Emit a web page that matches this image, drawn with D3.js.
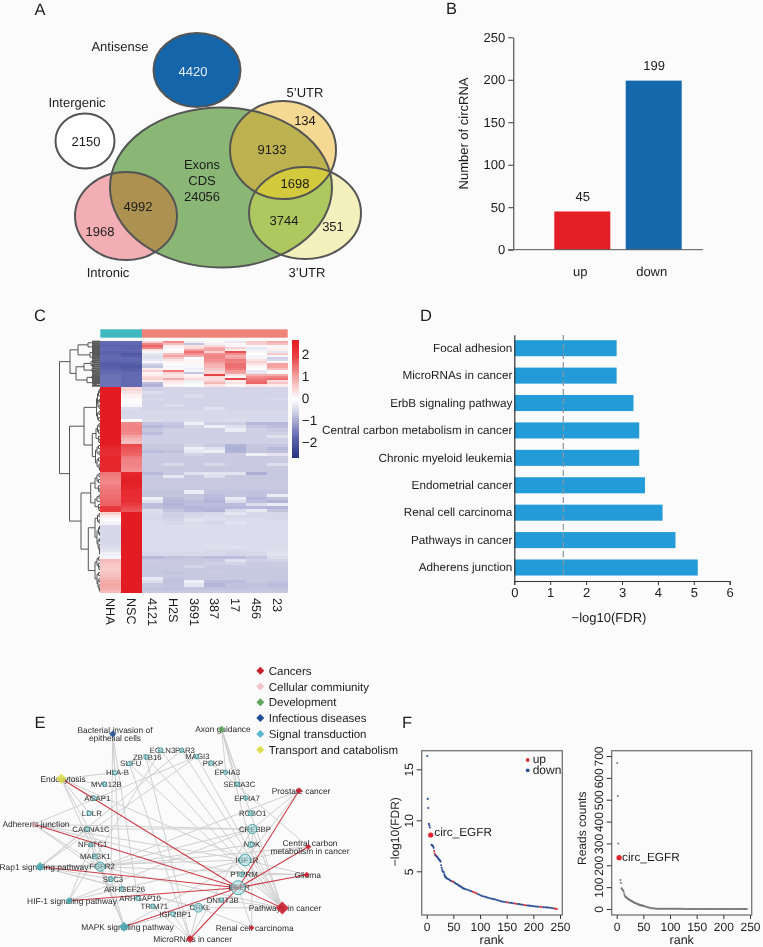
<!DOCTYPE html>
<html>
<head>
<meta charset="utf-8">
<script src="https://d3js.org/d3.v7.min.js"></script>
<style>
  html, body { margin: 0; padding: 0; background: #fbfbfb; }
  svg { display: block; font-family: "Liberation Sans", Arial, sans-serif; fill: #1c1c1c; text-rendering: geometricPrecision; filter: blur(0.3px); }
  .domain { stroke: #333; }
  .tick line { stroke: #333; }
  .tick text { fill: #1c1c1c; }
</style>
</head>
<body>
<svg id="fig" width="763" height="947"></svg>
<script>
// panel A
var vennNames = ["Antisense", "Intergenic", "Exons", "5’UTR", "3’UTR", "Intronic"];
var vennCounts = [4420, 2150, 24056, 134, 351, 1968];
var vennOverlapCounts = [9133, 1698, 3744, 4992];

// panel B
var circTypes = ["up", "down"];
var circCounts = [45, 199];

// panel C
var heatCols = ["NHA", "NSC", "4121", "H2S", "3691", "387", "17", "456", "23"];
var heatRowCounts = [2,2,2,2,2,2,2,2,2,2,2,2,2,2,2,2,2,2,2,2,2,3,
  4,3,3,3,3,3,3,3,3,3,3,3,3,3,3,3,3,3,3,3,3,3,3,3,3,3,3,3,3,3,3,3,3,3,3,3,3,3,3,3,3,3,3,3,3,3,3,3,3,3,3,3,3,3,3,3,3,3,3,3,3,3,3,3,3,3];
var heatRows = [
  [-1.7,-1.7,.5,1.2,-.2,.1,-.3,.6,.9],
  [-1.7,-1.7,1.3,.7,-.7,-.2,.1,.5,.7],
  [-1.8,-1.8,1.6,.2,.3,.4,-.1,-.1,-.1],
  [-1.7,-1.8,1.3,.1,.4,.9,.5,-.3,.1],
  [-1.7,-1.7,.3,.0,1,1,.2,-.2,.2],
  [-1.8,-1.8,-.1,.1,1.5,.5,1.8,.1,-.3],
  [-1.8,-2,-.3,.7,1.2,1.2,1.2,0,.6],
  [-1.7,-1.9,-.4,1,.9,1.3,.9,-.1,-.1],
  [-1.7,-1.7,-.4,.6,0,1.3,1,-.1,-.6],
  [-1.7,-1.7,-.3,.3,.1,1.2,1.4,.3,-.5],
  [-1.8,-1.8,-.1,.1,.1,1.1,1.3,.5,.1],
  [-1.9,-1.9,-.5,0,.1,.9,1.5,.3,1],
  [-1.9,-2,-.7,-.1,-.1,.8,1.5,.1,1],
  [-1.8,-1.9,.2,-.1,-.2,.6,1.4,0,.7],
  [-1.7,-1.8,.5,1.4,-.1,.5,1.1,-.3,-.1],
  [-1.7,-1.7,.1,.5,-.7,.4,1,-.3,-.1],
  [-1.6,-1.7,.2,.3,.1,1.9,.3,.9,.9],
  [-1.6,-1.7,.4,.3,.2,.4,.1,1.2,1.3],
  [-1.6,-1.7,.5,.9,.4,.3,1.9,1.4,1.5],
  [-1.6,-1.7,.2,.3,-.2,.5,.2,1.5,.4],
  [-1.6,-1.7,-.8,.2,-.1,.8,.3,1.6,.6],
  [-1.6,-1.7,-.9,.1,0,.3,.1,.3,.2],
  [2.65,.45,-.6,-.55,-.55,-.55,-.55,-.55,-.55],
  [2.65,.3,-.42,-.55,-.55,-.55,-.55,-.55,-.55],
  [2.65,.15,-.55,-.55,-.45,-.55,-.55,-.55,-.55],
  [2.65,.05,-.5,-.55,-.55,-.55,-.55,-.55,-.5],
  [2.65,-.05,-.55,-.55,-.55,-.55,-.55,-.55,-.55],
  [2.65,-.1,-.55,-.45,-.55,-.55,-.55,-.55,-.55],
  [2.65,-.45,-.55,-.55,-.55,-.38,-.55,-.55,-.55],
  [2.65,-.5,-.5,-.5,-.5,-.5,-.5,-.5,-.5],
  [2.65,-.5,-.5,-.5,-.5,-.5,-.5,-.5,-.5],
  [2.65,-.5,-.5,-.5,-.5,-.5,-.5,-.5,-.5],
  [2.65,.05,-.45,-.5,-.45,-.5,-.45,-.5,-.5],
  [2.65,1.25,-.72,-.68,-.2,-.6,-.62,-.85,-.85],
  [2.65,1.3,-.85,-.75,-.55,-.2,-.4,-.7,-.78],
  [2.65,1.3,-.7,-.6,-.6,-.6,-.22,-.6,-.65],
  [2.65,1.25,-.8,-.6,-.6,-.6,-.6,-.6,-.6],
  [2.65,1,-.6,-.6,-.6,-.6,-.6,-.6,-.4],
  [2.65,.8,-.6,-.6,-.6,-.6,-.6,-.6,-.6],
  [2.65,.7,-.6,-.6,-.6,-.6,-.6,-.6,-.6],
  [2.55,1.85,-.68,-.68,-.55,-.65,-.9,-.7,-.7],
  [2.35,1.75,-.68,-.68,-.2,-.4,-.95,-.7,-.85],
  [2.3,1.7,-.8,-.75,-.3,-.2,-.9,-.72,-.78],
  [2.25,1.6,-.65,-.65,-.55,-.65,-.65,-.2,-.35],
  [2.4,1.4,-.65,-.65,-.65,-.65,-.65,-.65,-.65],
  [2.45,1.3,-.65,-.65,-.65,-.65,-.65,-.65,-.65],
  [2.4,1.3,-.65,-.5,-.65,-.5,-.65,-.65,-.42],
  [2.35,1.25,-.68,-.68,-.68,-.68,-.68,-.68,-.68],
  [2.35,1.2,-.68,-.68,-.68,-.68,-.68,-.68,-.68],
  [1.45,2.4,-.85,-.68,-.38,-.35,-.35,-.95,-.68],
  [1.35,2.5,-.68,-.32,-.68,-.4,-.68,-.68,-.68],
  [1.3,2.55,-.68,-.68,-.68,-.68,-.68,-.68,-.68],
  [1.25,2.55,-.68,-.68,-.68,-.68,-.68,-.68,-.68],
  [1.35,2.5,-.65,-.65,-.65,-.65,-.65,-.65,-.65],
  [1.4,2.4,-.68,-.68,-.68,-.68,-.68,-.68,-.68],
  [1.45,2.3,-.72,-.75,-.22,-.72,-.72,-.75,-.72],
  [1.5,2.3,-.72,-.72,-.72,-.8,-.72,-.75,-.22],
  [1.55,2.25,-.2,-.82,-.7,-.85,-.25,-.85,-.75],
  [1.6,2.2,-.4,-.85,-.8,-.9,-.45,-.78,-.9],
  [1.6,2,-.78,-.9,-.8,-.8,-.8,-.42,-.22],
  [2,1.85,-.78,-.82,-.9,-.85,-.85,-.85,-.88],
  [2.05,1.75,-.42,-.72,-.85,-.9,-.5,-.3,-.72],
  [.5,2.65,-.45,-.6,-.55,-.5,-.32,-.5,-.5],
  [.2,2.65,-.5,-.6,-.5,-.45,-.5,-.5,-.5],
  [-.05,2.65,-.5,-.55,-.35,-.42,-.45,-.45,-.5],
  [-.15,2.65,-.45,-.5,-.42,-.5,-.38,-.45,-.45],
  [-.5,2.65,-.45,-.45,-.45,-.45,-.45,-.45,-.45],
  [-.5,2.65,-.45,-.45,-.45,-.45,-.45,-.45,-.45],
  [-.5,2.65,-.42,-.42,-.42,-.42,-.42,-.42,-.42],
  [-.5,2.65,-.42,-.42,-.42,-.42,-.42,-.42,-.42],
  [-.5,2.65,-.42,-.42,-.42,-.42,-.42,-.42,-.42],
  [-.5,2.65,-.42,-.42,-.42,-.42,-.42,-.42,-.42],
  [-.5,2.65,-.45,-.45,-.45,-.4,-.45,-.45,-.45],
  [-.45,2.65,-.45,-.45,-.45,-.4,-.4,-.45,-.45],
  [-.35,2.65,-.45,-.45,-.45,-.5,-.5,-.45,-.4],
  [-.2,2.65,-.5,-.5,-.5,-.5,-.55,-.5,-.38],
  [-.1,2.65,-.85,-.75,-.72,-.8,-.8,-.68,-.45],
  [.75,2.65,-.65,-.68,-.68,-.65,-.38,-.6,-.55],
  [.65,2.65,-.65,-.65,-.65,-.6,-.55,-.65,-.65],
  [.6,2.65,-.68,-.65,-.55,-.65,-.65,-.65,-.65],
  [.55,2.65,-.68,-.68,-.68,-.68,-.68,-.68,-.68],
  [.65,2.65,-.68,-.72,-.68,-.65,-.68,-.68,-.68],
  [.7,2.65,-.68,-.68,-.68,-.68,-.68,-.68,-.68],
  [.8,2.65,-.3,-.72,-.68,-.68,-.68,-.68,-.68],
  [.9,2.65,-.42,-.75,-.2,-.8,-.8,-.68,-.72],
  [.95,2.65,-.68,-.72,-.32,-.88,-.75,-.75,-.8],
  [.9,2.65,-.72,-.75,-.72,-.75,-.75,-.72,-.75],
  [.75,2.65,-.68,-.68,-.68,-.68,-.68,-.68,-.68],
  [.7,2.65,-.55,-.65,-.68,-.55,-.65,-.65,-.6]
];
// dendrogram as nested [distance, left, right], numbers at the ends are row indexes
var rowTree = [40.5,
  [30,
    [22,[12,[6,0,1],[5,2,3]],[10,[7,[4,4,5],6],[5,7,8]]],
    [24,[16,[9,[5,9,10],[6,11,12]],[8,13,[4,14,15]]],[13,[8,[4,16,17],18],[7,19,[4,20,21]]]]],
  [30.5,
    [16,
      [3.5,[2.5,[1.5,[.7,22,23],24],[2,[.7,25,26],[1,27,28]]],[2.5,[1,29,30],[1.5,31,32]]],
      [7.7,[4,[2.5,[1,33,34],[1.5,35,36]],[1.5,37,[1,38,39]]],[4.5,[3,[1.5,40,41],[1,42,43]],[3,[1.5,44,45],[1,46,[.5,47,48]]]]]],
    [19,
      [9.3,[5,[3,[1,49,50],[1.5,51,52]],[1.5,53,[1,54,55]]],[5,[3,[1,56,57],58],[1.5,59,[1,60,61]]]],
      [11.7,
        [5,[2.5,[1,62,63],[1,64,65]],[3,[1.5,[.5,66,67],[.5,68,69]],[2,[.5,70,71],[1,72,[.5,73,[.5,74,75]]]]]],
        [5,[3,[1.5,76,77],[1.5,78,[1,79,80]]],[3,[1.5,81,82],[2,[1,83,84],[1,85,[.5,86,87]]]]]]]]];

// panel D
var pathwayNames = ["Focal adhesion", "MicroRNAs in cancer", "ErbB signaling pathway", "Central carbon metabolism in cancer", "Chronic myeloid leukemia", "Endometrial cancer", "Renal cell carcinoma", "Pathways in cancer", "Adherens junction"];
var pathwayFdr = [2.85, 2.85, 3.32, 3.48, 3.48, 3.64, 4.13, 4.49, 5.11];
var fdrCutoff = 1.365;

// panel E
var legendNames = ["Cancers", "Cellular commiunity", "Development", "Infectious diseases", "Signal transduction", "Transport and catabolism"];
var netNodes = [
  ["Bacterial invasion of|epithelial cells", "Infectious diseases"],
  ["Endocytosis", "Transport and catabolism"],
  ["Adherens junction", "Cellular commiunity"],
  ["Rap1 signaling pathway", "Signal transduction"],
  ["HIF-1 signaling pathway", "Signal transduction"],
  ["MAPK signaling pathway", "Signal transduction"],
  ["MicroRNAs in cancer", "Cancers"],
  ["Axon guidance", "Development"],
  ["Prostate cancer", "Cancers"],
  ["Central carbon|metabolism in cancer", "Cancers"],
  ["Glioma", "Cancers"],
  ["Pathways in cancer", "Cancers"],
  ["Renal cell carcinoma", "Cancers"],
  ["EGFR", "gene"], ["IGF1R", "gene"], ["CREBBP", "gene"], ["NDK", "gene"], ["ROBO1", "gene"], ["EPHA7", "gene"],
  ["SEMA3C", "gene"], ["EPHA3", "gene"], ["PTPRM", "gene"], ["DNMT3B", "gene"], ["CRKL", "gene"], ["IGF2BP1", "gene"],
  ["TRIM71", "gene"], ["ARHGAP10", "gene"], ["ARHGEF26", "gene"], ["SBC3", "gene"], ["FGFR2", "gene"], ["MAP3K1", "gene"],
  ["NFATC1", "gene"], ["CACNA1C", "gene"], ["LDLR", "gene"], ["AGAP1", "gene"], ["MVB12B", "gene"], ["HLA-B", "gene"],
  ["SUFU", "gene"], ["ZBTB16", "gene"], ["EGLN3", "gene"], ["PAR3", "gene"], ["MAGI3", "gene"], ["PFKP", "gene"]
];
var redEdges = [
  ["Endocytosis", "EGFR"], ["Adherens junction", "EGFR"], ["Rap1 signaling pathway", "EGFR"],
  ["HIF-1 signaling pathway", "EGFR"], ["MAPK signaling pathway", "EGFR"], ["MicroRNAs in cancer", "EGFR"],
  ["Prostate cancer", "EGFR"], ["Central carbon|metabolism in cancer", "EGFR"], ["Glioma", "EGFR"], ["Pathways in cancer", "EGFR"]
];
var grayEdges = [
  ["Bacterial invasion of|epithelial cells", "HLA-B"], ["Bacterial invasion of|epithelial cells", "SBC3"], ["Bacterial invasion of|epithelial cells", "ARHGAP10"], ["Bacterial invasion of|epithelial cells", "ARHGEF26"],
  ["Endocytosis", "HLA-B"], ["Endocytosis", "MVB12B"], ["Endocytosis", "AGAP1"], ["Endocytosis", "LDLR"], ["Endocytosis", "FGFR2"], ["Endocytosis", "ARHGEF26"], ["Endocytosis", "IGF1R"],
  ["Adherens junction", "CREBBP"], ["Adherens junction", "IGF1R"], ["Adherens junction", "FGFR2"], ["Adherens junction", "SBC3"], ["Adherens junction", "PTPRM"], ["Adherens junction", "MAGI3"],
  ["Rap1 signaling pathway", "CACNA1C"], ["Rap1 signaling pathway", "FGFR2"], ["Rap1 signaling pathway", "IGF1R"], ["Rap1 signaling pathway", "MAGI3"], ["Rap1 signaling pathway", "PAR3"], ["Rap1 signaling pathway", "SBC3"], ["Rap1 signaling pathway", "CRKL"],
  ["HIF-1 signaling pathway", "IGF1R"], ["HIF-1 signaling pathway", "CREBBP"], ["HIF-1 signaling pathway", "EGLN3"], ["HIF-1 signaling pathway", "NFATC1"],
  ["MAPK signaling pathway", "CACNA1C"], ["MAPK signaling pathway", "MAP3K1"], ["MAPK signaling pathway", "FGFR2"], ["MAPK signaling pathway", "NFATC1"], ["MAPK signaling pathway", "CRKL"], ["MAPK signaling pathway", "IGF1R"], ["MAPK signaling pathway", "SBC3"],
  ["MicroRNAs in cancer", "ZBTB16"], ["MicroRNAs in cancer", "SUFU"], ["MicroRNAs in cancer", "CRKL"], ["MicroRNAs in cancer", "IGF2BP1"], ["MicroRNAs in cancer", "TRIM71"], ["MicroRNAs in cancer", "CREBBP"],
  ["Pathways in cancer", "EGLN3"], ["Pathways in cancer", "ZBTB16"], ["Pathways in cancer", "FGFR2"], ["Pathways in cancer", "IGF1R"], ["Pathways in cancer", "CRKL"], ["Pathways in cancer", "CREBBP"], ["Pathways in cancer", "NDK"], ["Pathways in cancer", "ROBO1"], ["Pathways in cancer", "PTPRM"], ["Pathways in cancer", "DNMT3B"], ["Pathways in cancer", "SUFU"], ["Pathways in cancer", "MAGI3"], ["Pathways in cancer", "PAR3"],
  ["Axon guidance", "EPHA3"], ["Axon guidance", "SEMA3C"], ["Axon guidance", "EPHA7"], ["Axon guidance", "ROBO1"], ["Axon guidance", "NDK"],
  ["Prostate cancer", "IGF1R"], ["Prostate cancer", "CREBBP"], ["Prostate cancer", "FGFR2"],
  ["Central carbon|metabolism in cancer", "PFKP"], ["Central carbon|metabolism in cancer", "FGFR2"], ["Central carbon|metabolism in cancer", "IGF1R"],
  ["Glioma", "IGF1R"], ["Glioma", "PTPRM"],
  ["Renal cell carcinoma", "CREBBP"], ["Renal cell carcinoma", "CRKL"], ["Renal cell carcinoma", "EGFR"],
  ["FGFR2", "CREBBP"], ["FGFR2", "NDK"], ["FGFR2", "Glioma"], ["CACNA1C", "CREBBP"], ["CRKL", "Rap1 signaling pathway"]
];

// panel F
var rankLeft = [1,2,3,4,5,6,9,10,11,12,13,14,15,16,17,18,19,20,21,22,23,24,25,26,27,28,29,30,31,32,33,34,35,36,37,38,40,42,44,46,48,50,52,54,56,58,60,62,64,66,68,70,72,75,78,81,84,87,90,93,96,99,102,105,108,111,114,117,120,123,126,129,132,135,138,141,144,147,150,153,156,159,162,165,168,171,174,177,180,183,186,189,192,195,198,201,204,207,210,213,216,219,222,225,228,231,234,237,240,242,244];
var fdrLeft = [16.3,12.1,11.2,9.65,9.5,9.3,7.6,7.55,7.5,7.45,7.3,7,6.75,6.6,6.55,6.5,6.45,6.4,6.3,6.25,6.15,6.1,6.05,5.95,5.6,5.35,5.15,5,4.95,4.9,4.7,4.55,4.45,4.4,4.35,4.3,4.25,4.2,4.1,4.05,4,3.98,3.9,3.82,3.75,3.7,3.62,3.55,3.5,3.42,3.35,3.3,3.27,3.22,3.17,3.1,3.05,2.98,2.92,2.85,2.78,2.7,2.62,2.56,2.52,2.47,2.42,2.38,2.34,2.3,2.27,2.23,2.18,2.13,2.08,2.04,2.01,1.99,1.96,1.94,1.92,1.9,1.87,1.84,1.82,1.8,1.78,1.75,1.72,1.7,1.67,1.65,1.63,1.61,1.59,1.57,1.55,1.54,1.53,1.52,1.5,1.48,1.47,1.46,1.44,1.42,1.4,1.38,1.35,1.33,1.3];
var upRanks = [14,15,18,48,50,87,90,93,150,153,165,168,183,186,213,216,240,242,244];
var rankRight = [1,2,3,7,8,9,10,11,12,13,14,15,16,17,18,19,20,21,22,23,24,25,26,27,28,29,30,31,32,33,34,35,36,37,38,39,40,41,42,43,44,45,46,47,48,49,50,52,54,56,58,60,62,64,66,68,70,72,74,76,78,80,82,84,86,88,90,92,94,96,98,100,102,104,106,108,110,112,114,116,118,120,122,124,126,128,130,132,134,136,138,140,142,144,146,148,150,152,154,156,158,160,162,164,166,168,170,172,174,176,178,180,182,184,186,188,190,192,194,196,198,200,202,204,206,208,210,212,214,216,218,220,222,224,226,228,230,232,234,236,238,240,242,244];
var readsRight = [668,517,300,133,119,95,92,88,85,80,70,62,57,55,53,51,49,47,45,43,42,41,39,38,36,35,33,32,31,29,28,27,26,25,24,23,22,21,20,19,18,17,16.5,16,15.5,15,14.5,13,11.5,10,8.5,7,6,5,4,3,2.5,2,1.5,1.2,1.1,1,1,1,1,1,1,.9,.9,.9,.8,.8,.8,.8,.8,.7,.7,.7,.7,.6,.6,.6,.6,.6,.5,.5,.5,.5,.5,.5,.4,.4,.4,.4,.4,.4,.4,.3,.3,.3,.3,.3,.3,.3,.3,.3,.3,.3,.2,.2,.2,.2,.2,.2,.2,.2,.2,.2,.2,.2,.2,.2,.2,.2,.1,.1,.1,.1,.1,.1,.1,.1,.1,.1,.1,.1,.1,.1,.1,.1,.1,.1,.1,.1,.1,.1,.1,.1];
var circEgfr = {leftRank: 7.5, leftFdr: 8.56, rightRank: 4.5, rightReads: 235};

var svg = d3.select("#fig");

// panel letters
var panelLetters = [["A", 40, 15], ["B", 451.5, 14], ["C", 40, 321], ["D", 426, 321], ["E", 40, 728], ["F", 407, 728]];
svg.selectAll(".letter").data(panelLetters).enter().append("text")
  .attr("class", "letter").attr("x", d => d[1]).attr("y", d => d[2])
  .attr("text-anchor", "middle").style("font-size", "16.5px").text(d => d[0]);

// ---------- A: venn ----------
var gA = svg.append("g");
var vennShapes = [
  {cx: 197, cy: 70, rx: 43.5, ry: 37, fill: "#1465aa"},
  {cx: 85, cy: 141, rx: 29.5, ry: 27.5, fill: "#ffffff"},
  {cx: 126, cy: 216, rx: 51, ry: 44, fill: "#f2aeb4", id: "intronic"},
  {cx: 283, cy: 150, rx: 53, ry: 49, fill: "#f5d992", id: "utr5"},
  {cx: 305, cy: 213, rx: 56, ry: 46, fill: "#f3f0be", id: "utr3"},
  {cx: 221, cy: 187.5, rx: 111, ry: 80, fill: "#8ab776", id: "exons"}
];
var defs = svg.append("defs");
vennShapes.filter(d => d.id).forEach(function(d) {
  defs.append("clipPath").attr("id", "clip-" + d.id).append("ellipse")
    .attr("cx", d.cx).attr("cy", d.cy).attr("rx", d.rx).attr("ry", d.ry);
});
function vennEllipse(g, d) {
  return g.append("ellipse").attr("cx", d.cx).attr("cy", d.cy).attr("rx", d.rx).attr("ry", d.ry);
}
vennShapes.forEach(function(d) { vennEllipse(gA, d).attr("fill", d.fill); });
var exonShape = vennShapes[5];
vennEllipse(gA.append("g").attr("clip-path", "url(#clip-intronic)"), exonShape).attr("fill", "#ad9151");
vennEllipse(gA.append("g").attr("clip-path", "url(#clip-utr5)"), exonShape).attr("fill", "#bdb24f");
vennEllipse(gA.append("g").attr("clip-path", "url(#clip-utr3)"), exonShape).attr("fill", "#aec860");
vennEllipse(gA.append("g").attr("clip-path", "url(#clip-utr5)").append("g").attr("clip-path", "url(#clip-utr3)"), exonShape).attr("fill", "#d2ca3c");
vennShapes.forEach(function(d) { vennEllipse(gA, d).attr("fill", "none").attr("stroke", "#555").attr("stroke-width", 2); });

var vennText = [
  [vennNames[0], 120, 46], [vennCounts[0], 193, 71], [vennNames[1], 77, 102], [vennCounts[1], 86, 141],
  [vennNames[2], 202, 164], ["CDS", 202, 180], [vennCounts[2], 202, 196], [vennNames[3], 305, 92],
  [vennCounts[3], 305, 120], [vennOverlapCounts[0], 272, 149], [vennOverlapCounts[1], 295, 183],
  [vennOverlapCounts[2], 284, 220], [vennCounts[4], 333, 226], [vennOverlapCounts[3], 138, 206],
  [vennCounts[5], 100, 231], [vennNames[5], 108, 272], [vennNames[4], 307, 272]
];
gA.selectAll("text").data(vennText).enter().append("text")
  .attr("x", d => d[1]).attr("y", d => d[2]).attr("dy", "0.35em")
  .attr("text-anchor", "middle").style("font-size", "13px")
  .style("fill", d => d[0] === vennCounts[0] ? "#e4eef6" : "#1c1c1c").text(d => d[0]);

// ---------- B: bars ----------
var bY = d3.scaleLinear().domain([0, 250]).range([249.7, 37.3]);
var bX = d3.scaleBand().domain(circTypes).range([554.3, 681.7]).paddingInner(0.2157).paddingOuter(0);
var gB = svg.append("g");
gB.append("g").attr("transform", "translate(513.3,0)")
  .call(d3.axisLeft(bY).tickValues([0, 50, 100, 150, 200, 250]).tickSize(5).tickPadding(3).tickSizeOuter(0))
  .style("font-size", "13px").style("font-family", "inherit");
gB.selectAll(".bar").data(circTypes).enter().append("rect")
  .attr("class", "bar").attr("x", d => bX(d)).attr("width", bX.bandwidth())
  .attr("y", (d, i) => bY(circCounts[i])).attr("height", (d, i) => bY(0) - bY(circCounts[i]))
  .attr("fill", (d, i) => i === 0 ? "#e31e26" : "#1468ab");
gB.append("line").attr("x1", 508).attr("x2", 703).attr("y1", bY(0)).attr("y2", bY(0)).attr("stroke", "#555").attr("stroke-width", 1);
gB.selectAll(".val").data(circTypes).enter().append("text")
  .attr("class", "val").attr("x", d => bX(d) + bX.bandwidth() / 2 + 0.5).attr("y", (d, i) => bY(circCounts[i]) - 15)
  .attr("dy", "0.35em").attr("text-anchor", "middle").style("font-size", "13px").text((d, i) => circCounts[i]);
gB.selectAll(".cat").data(circTypes).enter().append("text")
  .attr("class", "cat").attr("x", d => bX(d) + bX.bandwidth() / 2 - 2).attr("y", 271)
  .attr("dy", "0.35em").attr("text-anchor", "middle").style("font-size", "13px").text(d => d);
gB.append("text").attr("transform", "translate(463,133.5) rotate(-90)").attr("text-anchor", "middle")
  .attr("dy", "0.35em").style("font-size", "13px").text("Number of circRNA");

// ---------- C: heatmap ----------
var gC = svg.append("g");
var heatColor = d3.scaleLinear()
  .domain([-2.7, -1.7, -0.6, 0, 1, 2, 2.65])
  .range(["#23307e", "#6269b1", "#cfd0e5", "#ffffff", "#f4a3a3", "#e83a3e", "#e31b23"]);
var heatX = d3.scaleBand().domain(heatCols).range([100.3, 287.7]);
var heatY = d3.scaleLinear().domain([0, 244]).range([340.7, 592.7]);
var rowStart = d3.cumsum([0].concat(heatRowCounts));

gC.selectAll(".hrow").data(heatRows).enter().append("g").attr("class", "hrow")
  .each(function(row, i) {
    d3.select(this).selectAll("rect").data(row).enter().append("rect")
      .attr("x", (d, j) => heatX(heatCols[j])).attr("width", heatX.bandwidth() + 0.3)
      .attr("y", heatY(rowStart[i])).attr("height", heatY(rowStart[i + 1]) - heatY(rowStart[i]) + 0.3)
      .attr("fill", d => heatColor(d)).attr("shape-rendering", "crispEdges");
  });

// group annotation strip
gC.append("rect").attr("x", heatX("NHA")).attr("width", heatX.bandwidth() * 2).attr("y", 329.3).attr("height", 8.4).attr("fill", "#3fb8bf");
gC.append("rect").attr("x", heatX("4121")).attr("width", heatX.bandwidth() * 7).attr("y", 329.3).attr("height", 8.4).attr("fill", "#ee8379");

gC.selectAll(".hcol").data(heatCols).enter().append("text").attr("class", "hcol")
  .attr("transform", d => "translate(" + (heatX(d) + heatX.bandwidth() / 2) + ",598) rotate(90)")
  .attr("dy", "0.35em").style("font-size", "12.6px").text(d => d);

// dendrogram
var treeX = d3.scaleLinear().domain([0, 40.5]).range([100, 59.5]);
var treePath = d3.path();
function drawTree(node) {
  if (typeof node === "number") {
    return {x: treeX(0), y: (heatY(rowStart[node]) + heatY(rowStart[node + 1])) / 2};
  }
  var a = drawTree(node[1]), b = drawTree(node[2]);
  var x = treeX(node[0]);
  treePath.moveTo(a.x, a.y); treePath.lineTo(x, a.y); treePath.lineTo(x, b.y); treePath.lineTo(b.x, b.y);
  return {x: x, y: (a.y + b.y) / 2};
}
drawTree(rowTree);
gC.append("path").attr("d", treePath.toString()).attr("fill", "none").attr("stroke", "#555").attr("stroke-width", 1);
// the up block's leaves are so close together that they read as a solid band
gC.append("g").selectAll("line").data(d3.range(22)).enter().append("line")
  .attr("x1", treeX(8)).attr("x2", treeX(0))
  .attr("y1", d => (heatY(rowStart[d]) + heatY(rowStart[d + 1])) / 2)
  .attr("y2", d => (heatY(rowStart[d]) + heatY(rowStart[d + 1])) / 2)
  .attr("stroke", "#5a5a5a").attr("stroke-width", 2.2);

// colour bar
var barY = d3.scaleLinear().domain([2.65, -2.7]).range([340, 458]);
gC.selectAll(".cbar").data(d3.range(2.65, -2.7, -0.05)).enter().append("rect").attr("class", "cbar")
  .attr("x", 291.7).attr("width", 7.6).attr("y", d => barY(d)).attr("height", 1.6)
  .attr("fill", d => heatColor(d)).attr("shape-rendering", "crispEdges");
gC.append("g").attr("transform", "translate(299.3,0)")
  .call(d3.axisRight(barY).tickValues([2, 1, 0, -1, -2]).tickFormat(d3.format("d")).tickSize(0).tickPadding(2.5))
  .style("font-size", "13.5px").style("font-family", "inherit")
  .call(g => g.select(".domain").remove());

// ---------- D: enrichment bars ----------
var gD = svg.append("g");
var dX = d3.scaleLinear().domain([0, 6]).range([514.3, 729.7]);
var dY = d3.scaleBand().domain(pathwayNames).range([334.7, 581]).paddingInner(0.415).paddingOuter(0.2);
gD.selectAll(".dbar").data(pathwayNames).enter().append("rect").attr("class", "dbar")
  .attr("x", dX(0)).attr("y", d => dY(d)).attr("height", dY.bandwidth())
  .attr("width", (d, i) => dX(pathwayFdr[i]) - dX(0)).attr("fill", "#229bd8");
gD.append("line").attr("x1", dX(fdrCutoff)).attr("x2", dX(fdrCutoff)).attr("y1", 335).attr("y2", 576)
  .attr("stroke", "#8795a3").attr("stroke-width", 1.2).attr("stroke-dasharray", "6,3");
gD.append("g").attr("transform", "translate(514.3,0)")
  .call(d3.axisLeft(dY).tickSize(0).tickPadding(2))
  .style("font-size", "11.7px").style("font-family", "inherit")
  .call(g => g.select(".domain").attr("stroke", "#111").attr("stroke-width", 1.2));
gD.append("g").attr("transform", "translate(0,581)")
  .call(d3.axisBottom(dX).ticks(6).tickSize(4).tickPadding(3).tickSizeOuter(4))
  .style("font-size", "13px").style("font-family", "inherit")
  .call(g => g.select(".domain").attr("stroke", "#555"));
gD.append("text").attr("x", 609).attr("y", 617).attr("dy", "0.35em").attr("text-anchor", "middle")
  .style("font-size", "13px").text("−log10(FDR)");

// ---------- E: network ----------
var gE = svg.append("g");
var netColor = d3.scaleOrdinal()
  .domain(legendNames)
  .range(["#c8202e", "#f2c4c7", "#5fa55f", "#1f4e96", "#5cb8cf", "#dede50"]);
// node layout: name -> [x, y, radius, label x]
var netLayout = {
  "Bacterial invasion of|epithelial cells": [112.7, 734, 3.6, 115],
  "Endocytosis": [61.3, 778.7, 5.2, 63],
  "Adherens junction": [33.7, 824.3, 3.6, 36],
  "Rap1 signaling pathway": [40, 866.7, 4.6, 44],
  "HIF-1 signaling pathway": [69, 900.7, 3.6, 72],
  "MAPK signaling pathway": [124, 926.7, 5, 127.5],
  "MicroRNAs in cancer": [190, 939, 4, 192.6],
  "Axon guidance": [221.7, 729.3, 3.6, 223],
  "Prostate cancer": [299, 790.7, 3.4, 301],
  "Central carbon|metabolism in cancer": [308.3, 846.7, 3, 310],
  "Glioma": [306.7, 874.7, 3, 307.7],
  "Pathways in cancer": [282.3, 908, 6.4, 285],
  "Renal cell carcinoma": [251.7, 927.7, 2.8, 254.7],
  "EGFR": [238.3, 887.7, 7, 239], "IGF1R": [245, 860, 5.8, 247], "CREBBP": [252.3, 829, 4.6, 255],
  "NDK": [250.7, 844.7, 2.8, 252], "ROBO1": [250.7, 813.3, 2.6, 252.7], "EPHA7": [245.7, 798, 2.2, 247],
  "SEMA3C": [237.3, 784.3, 2.2, 239.3], "EPHA3": [225.7, 772.3, 2.2, 227.3], "PTPRM": [241.7, 874.7, 2.4, 244],
  "DNMT3B": [221.7, 900, 2.2, 222.7], "CRKL": [198.3, 907.7, 4.4, 200], "IGF2BP1": [172.7, 914, 2.2, 175.3],
  "TRIM71": [152.7, 906.3, 2.2, 154.3], "ARHGAP10": [137.7, 898.3, 2.2, 140], "ARHGEF26": [121.7, 889, 2.2, 124.5],
  "SBC3": [111, 879, 2.4, 113], "FGFR2": [100.3, 866.7, 4.6, 102], "MAP3K1": [95, 856.7, 2.2, 95.3],
  "NFATC1": [90.7, 844.7, 2.2, 92.7], "CACNA1C": [87.3, 829, 2.2, 91], "LDLR": [89.3, 813.3, 2.2, 91.8],
  "AGAP1": [94.3, 798.3, 2.2, 97.3], "MVB12B": [104.3, 784.3, 2.2, 106.3], "HLA-B": [115, 772.7, 2.2, 117.5],
  "SUFU": [129.3, 763.7, 2.2, 130.7], "ZBTB16": [146, 757, 2.2, 147.3], "EGLN3": [160.7, 750.3, 2.4, 162.5],
  "PAR3": [181.7, 750.3, 2.2, 185], "MAGI3": [196.7, 756.7, 2.2, 197.5], "PFKP": [211, 763.3, 2.2, 213]
};
function edgeLayer(list, color, width) {
  gE.append("g").selectAll("line").data(list).enter().append("line")
    .attr("x1", d => netLayout[d[0]][0]).attr("y1", d => netLayout[d[0]][1])
    .attr("x2", d => netLayout[d[1]][0]).attr("y2", d => netLayout[d[1]][1])
    .attr("stroke", color).attr("stroke-width", width);
}
edgeLayer(grayEdges, "#cfcfcf", 1);
edgeLayer(redEdges, "#cf3d48", 1.1);

// labels sit under the nodes, as in the picture
gE.append("g").selectAll("text").data(netNodes).enter().append("text")
  .attr("text-anchor", "middle").style("font-size", d => d[1] === "gene" ? "7.8px" : "8.4px").style("fill", "#2a2a2a")
  .each(function(d) {
    var pos = netLayout[d[0]], parts = d[0].split("|"), el = d3.select(this);
    parts.forEach(function(p, i) {
      el.append("tspan").attr("x", pos[3])
        .attr("y", pos[1] + (parts.length === 2 ? (i === 0 ? -4 : 4) : 0)).attr("dy", "0.35em").text(p);
    });
  });
gE.append("g").selectAll("path").data(netNodes.filter(d => d[1] !== "gene")).enter().append("path")
  .attr("d", d => d3.symbol(d3.symbolSquare, 2 * netLayout[d[0]][2] * netLayout[d[0]][2])())
  .attr("transform", d => "translate(" + netLayout[d[0]][0] + "," + netLayout[d[0]][1] + ") rotate(45)")
  .attr("fill", d => d[1] === "Cellular commiunity" ? "#c9a8a8" : d[1] === "Signal transduction" ? "#4ba9b4" : netColor(d[1]))
  .attr("fill-opacity", 0.9);
gE.append("g").selectAll("circle").data(netNodes.filter(d => d[1] === "gene")).enter().append("circle")
  .attr("cx", d => netLayout[d[0]][0]).attr("cy", d => netLayout[d[0]][1]).attr("r", d => netLayout[d[0]][2])
  .attr("fill", "#9fdadd").attr("fill-opacity", 0.55).attr("stroke", "#3f9ea3").attr("stroke-width", 0.9);

// legend
var legendY = d3.scalePoint().domain(legendNames).range([670.7, 749.7]);
gE.selectAll(".leg").data(legendNames).enter().append("path").attr("class", "leg")
  .attr("d", d3.symbol(d3.symbolSquare, 32)())
  .attr("transform", d => "translate(260.3," + legendY(d) + ") rotate(45)").attr("fill", d => netColor(d));
gE.selectAll(".legt").data(legendNames).enter().append("text").attr("class", "legt")
  .attr("x", 268.7).attr("y", d => legendY(d)).attr("dy", "0.35em").style("font-size", "11.5px").text(d => d);

// ---------- F: rank plots ----------
var gF = svg.append("g");
var fY1 = d3.scaleLinear().domain([0, 15]).range([922.3, 769.3]);
var fX1 = d3.scaleLinear().domain([0, 250]).range([426.7, 560]);
var fY2 = d3.scaleLinear().domain([0, 700]).range([909, 756]);
var fX2 = d3.scaleLinear().domain([0, 250]).range([616.7, 750]);

function frame(x0, x1, xs, ys, yTicks) {
  gF.append("rect").attr("x", x0).attr("y", 750.7).attr("width", x1 - x0).attr("height", 164.3)
    .attr("fill", "none").attr("stroke", "#777").attr("stroke-width", 1.3);
  gF.append("g").attr("transform", "translate(0,915)")
    .call(d3.axisBottom(xs).tickValues([0, 50, 100, 150, 200, 250]).tickSize(4).tickPadding(3))
    .style("font-size", "12px").style("font-family", "inherit")
    .call(g => g.select(".domain").remove())
    .call(g => g.selectAll("line").attr("stroke", "#555"));
  var yAxis = gF.append("g").attr("transform", "translate(" + x0 + ",0)")
    .call(d3.axisLeft(ys).tickValues(yTicks).tickSize(5).tickPadding(3))
    .style("font-size", "12px").style("font-family", "inherit");
  yAxis.select(".domain").remove();
  yAxis.selectAll("line").attr("stroke", "#555");
  yAxis.selectAll("text").attr("transform", "rotate(-90)").attr("x", 0).attr("y", -9)
    .attr("dy", 0).attr("text-anchor", "middle");
}
frame(421.7, 562.3, fX1, fY1, [5, 10, 15]);
frame(611.7, 751.7, fX2, fY2, [0, 100, 200, 300, 400, 500, 600, 700]);

gF.selectAll(".pl").data(rankLeft).enter().append("circle").attr("class", "pl")
  .attr("cx", d => fX1(d)).attr("cy", (d, i) => fY1(fdrLeft[i])).attr("r", 1.05)
  .attr("fill", d => upRanks.indexOf(d) >= 0 ? "#d8313c" : "#2d4f94");
gF.selectAll(".pr").data(rankRight).enter().append("circle").attr("class", "pr")
  .attr("cx", d => fX2(d)).attr("cy", (d, i) => fY2(readsRight[i])).attr("r", 1).attr("fill", "#7a7a7a");
// highlighted circ_EGFR
gF.append("circle").attr("cx", fX1(circEgfr.leftRank)).attr("cy", fY1(circEgfr.leftFdr)).attr("r", 2.6).attr("fill", "#e0232e");
gF.append("circle").attr("cx", fX2(circEgfr.rightRank)).attr("cy", fY2(circEgfr.rightReads)).attr("r", 2.6).attr("fill", "#e0232e");
gF.append("text").attr("x", 434.3).attr("y", 832.3).attr("dy", "0.35em").style("font-size", "11.8px").text("circ_EGFR");
gF.append("text").attr("x", 622).attr("y", 857).attr("dy", "0.35em").style("font-size", "11.8px").text("circ_EGFR");

gF.append("circle").attr("cx", 527.7).attr("cy", 760).attr("r", 1.9).attr("fill", "#d8313c");
gF.append("circle").attr("cx", 527.7).attr("cy", 770.3).attr("r", 1.9).attr("fill", "#2d4f94");
gF.append("text").attr("x", 532.7).attr("y", 759).attr("dy", "0.35em").style("font-size", "12px").text("up");
gF.append("text").attr("x", 532.7).attr("y", 769.5).attr("dy", "0.35em").style("font-size", "12px").text("down");

gF.append("text").attr("x", 491.7).attr("y", 939.3).attr("dy", "0.35em").attr("text-anchor", "middle").style("font-size", "12.5px").text("rank");
gF.append("text").attr("x", 681.7).attr("y", 939.3).attr("dy", "0.35em").attr("text-anchor", "middle").style("font-size", "12.5px").text("rank");
gF.append("text").attr("transform", "translate(395,831.7) rotate(-90)").attr("dy", "0.35em").attr("text-anchor", "middle").style("font-size", "12px").text("−log10(FDR)");
gF.append("text").attr("transform", "translate(581.7,828.3) rotate(-90)").attr("dy", "0.35em").attr("text-anchor", "middle").style("font-size", "12px").text("Reads counts");
</script>
</body>
</html>
